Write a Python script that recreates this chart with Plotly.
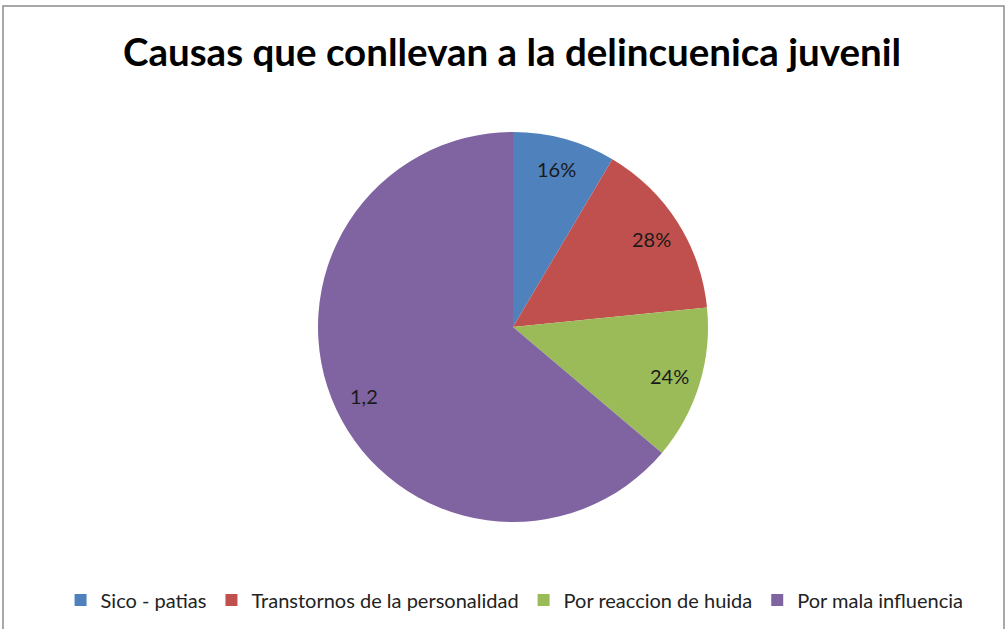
import math
import plotly.graph_objects as go

categories = ["Sico - patias", "Transtornos de la personalidad", "Por reaccion de huida", "Por mala influencia"]
values = [0.16, 0.28, 0.24, 1.2]
value_labels = ["16%", "28%", "24%", "1,2"]
colors = ["#4F81BD", "#C0504D", "#9BBB59", "#8064A2"]

W, H = 1007, 629
CX, CY, R = 513, 327, 195  # pie geometry in pixels
LABEL_R = 0.84

fig = go.Figure(go.Pie(
    labels=categories,
    values=values,
    text=value_labels,
    textinfo="none",
    marker=dict(colors=colors, line=dict(width=0)),
    sort=False,
    direction="clockwise",
    rotation=0,
    domain=dict(x=[(CX - R) / W, (CX + R) / W], y=[(H - CY - R) / H, (H - CY + R) / H]),
    hoverinfo="label+value+text",
))

# data labels placed at the middle angle of each slice (Excel best-fit style)
total = sum(values)
annotations = []
cum = 0.0
for v, t in zip(values, value_labels):
    mid = (cum + v / 2) / total * 2 * math.pi
    cum += v
    px = CX + LABEL_R * R * math.sin(mid)
    py = CY - LABEL_R * R * math.cos(mid)
    annotations.append(dict(
        x=px / W, y=1 - py / H, xref="paper", yref="paper",
        text=t, showarrow=False, xanchor="center", yanchor="middle",
        font=dict(family="Lato, Open Sans, sans-serif", size=20, color="#1a1a1a"),
    ))

fig.update_layout(
    width=W, height=H,
    margin=dict(l=0, r=0, t=0, b=0),
    paper_bgcolor="white",
    plot_bgcolor="white",
    title=dict(
        text="<b>Causas que conllevan a la delincuenica juvenil</b>",
        x=512 / W, xanchor="center",
        y=1 - 53 / H, yanchor="middle",
        font=dict(family="Lato, Open Sans, sans-serif", size=38.5, color="black"),
    ),
    legend=dict(
        orientation="h",
        x=0.511, xanchor="center",
        y=1 - 600 / H, yanchor="middle",
        font=dict(family="Lato, Open Sans, sans-serif", size=20, color="#222222"),
        traceorder="normal",
        itemwidth=30,
    ),
    annotations=annotations,
    shapes=[dict(
        type="rect", xref="paper", yref="paper",
        x0=3 / W, x1=1004 / W, y0=-0.05, y1=1 - 6 / H,
        line=dict(color="#8c8c8c", width=1.5),
        fillcolor="rgba(0,0,0,0)",
    )],
)

fig.write_html(
    "out.html",
    config={"displayModeBar": False},
    post_script="document.body.style.margin='0';document.body.style.overflow='hidden';",
)
